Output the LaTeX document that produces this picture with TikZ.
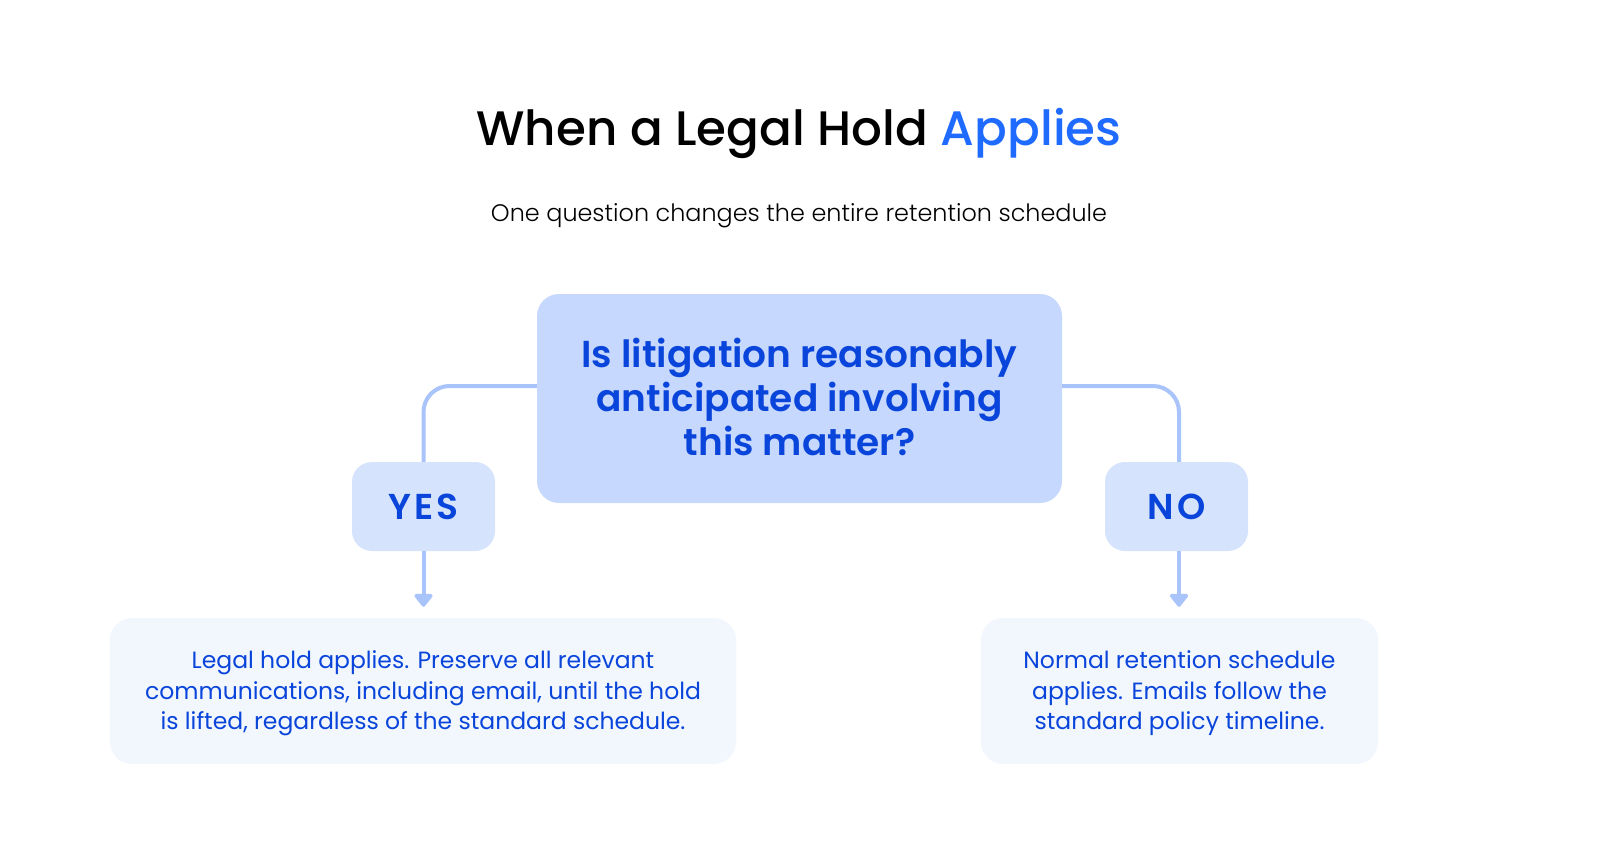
\documentclass[tikz,border=0pt]{standalone}
\usepackage{fontspec}
\setmainfont{Poppins}
\newfontfamily\popmed{Poppins Medium}
\newfontfamily\popsb{Poppins SemiBold}
\newfontfamily\poplight{Poppins Light}
\usetikzlibrary{arrows.meta}
\definecolor{qfill}{HTML}{C7D8FE}
\definecolor{afill}{HTML}{D6E3FD}
\definecolor{rfill}{HTML}{F2F7FE}
\definecolor{txtblue}{HTML}{0A45DB}
\definecolor{accent}{HTML}{1F6BFF}
\definecolor{linec}{HTML}{A9C3FB}
\begin{document}
\begin{tikzpicture}[x=1pt,y=-1pt,
  qbox/.style={fill=qfill, rounded corners=22pt, minimum width=525pt, minimum height=209pt, inner sep=0pt},
  qtext/.style={text=txtblue, align=center, inner sep=0pt, font=\popsb\fontsize{37.5}{44}\selectfont},
  abox/.style={fill=afill, rounded corners=20pt, minimum width=143pt, minimum height=89pt, inner sep=0pt,
    text=txtblue, font=\popsb\fontsize{36}{40}\selectfont},
  rbox/.style={fill=rfill, rounded corners=22pt, minimum height=146pt, inner sep=0pt},
  rtext/.style={text=txtblue, align=center, inner sep=0pt, font=\fontsize{23.5}{30.6}\selectfont},
  conn/.style={draw=linec, line width=4pt, rounded corners=26pt},
  arr/.style={draw=linec, line width=4pt, -{Triangle[width=21pt,length=14pt,round]}}
]
\useasboundingbox[fill=white] (0,0) rectangle (1600,850);
\node[anchor=base, font=\popmed\fontsize{48.4}{56}\selectfont] (title) at (799,146) {When a Legal Hold \textcolor{accent}{Applies}};
\node[anchor=base, font=\poplight\fontsize{23.9}{28}\selectfont] (sub) at (799,222) {One question changes the entire retention schedule};
\node[qbox] (q) at (799.5,398.5) {};
\node[qtext] (qt) at ([yshift=2pt]q.center) {Is litigation reasonably\\anticipated involving\\this matter?};
\node[abox] (yes) at (423.5,506.5) {\addfontfeature{LetterSpace=8}YES};
\node[abox] (no) at (1176.5,506.5) {\addfontfeature{LetterSpace=8}NO};
\node[rbox, minimum width=626pt] (rl) at (423,691) {};
\node[rtext] (rlt) at ([yshift=-2.5pt]rl.center) {Legal hold applies. Preserve all relevant\\communications, including email, until the hold\\is lifted, regardless of the standard schedule.};
\node[rbox, minimum width=397pt] (rr) at (1179.5,691) {};
\node[rtext] (rrt) at ([yshift=-2.5pt]rr.center) {Normal retention schedule\\applies. Emails follow the\\standard policy timeline.};
\draw[conn] ([yshift=12.5pt]q.west) -| (yes.north);
\draw[conn] ([yshift=12.5pt]q.east) -| ([xshift=2.5pt]no.north);
\coordinate (al) at ([yshift=11pt]rl.north -| yes.south);
\coordinate (ar) at ([yshift=11pt,xshift=2.5pt]rr.north -| no.south);
\draw[arr] (yes.south) -- (al);
\draw[arr] ([xshift=2.5pt]no.south) -- (ar);
\end{tikzpicture}
\end{document}
